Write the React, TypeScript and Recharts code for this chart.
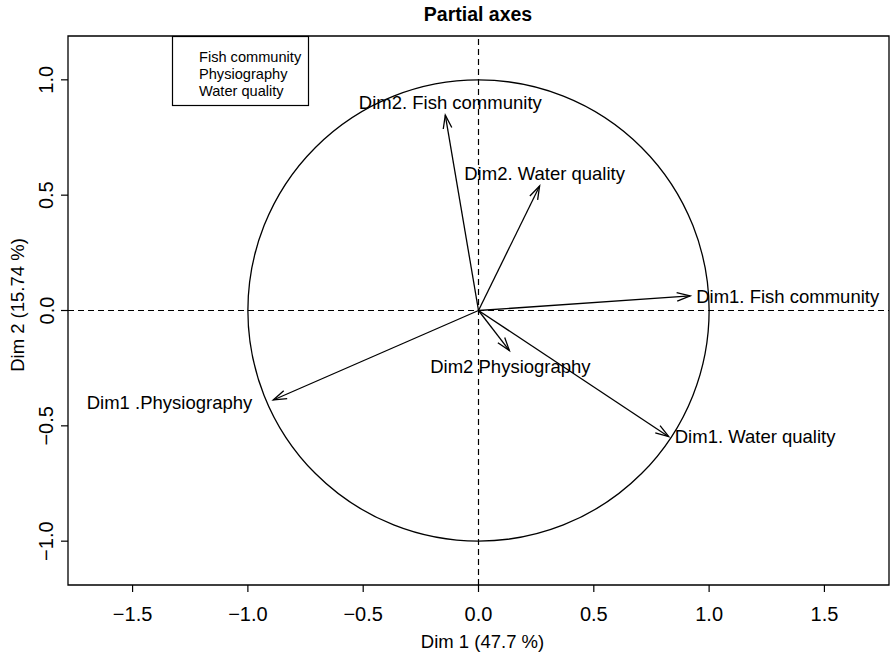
import React from "react";
import { ScatterChart, Scatter, XAxis, YAxis, ReferenceLine, ReferenceArea } from "recharts";

// partial axes of the MFA (correlation circle)
const NAMES = [
    "Dim1. Fish community",
    "Dim2. Fish community",
    "Dim1 .Physiography",
    "Dim2 Physiography",
    "Dim1. Water quality",
    "Dim2. Water quality",
];
const DIM1 = [0.918, -0.144, -0.89, 0.134, 0.825, 0.265];
const DIM2 = [0.063, 0.847, -0.388, -0.174, -0.547, 0.54];
const GROUPS = ["Fish community", "Physiography", "Water quality"];

const X_TICKS = [-1.5, -1, -0.5, 0, 0.5, 1, 1.5];
const Y_TICKS = [-1, -0.5, 0, 0.5, 1];
const X_DOMAIN = [-1.78, 1.78];
const Y_DOMAIN = [-1.19, 1.19];
const CIRCLE_R = 1;

// where each label sits relative to its arrow tip
const PLACE = ["right", "top", "left", "bottom", "right", "top"];

const FONT = '"Liberation Sans", Arial, Helvetica, sans-serif';
const INK = "#000";

const points = NAMES.map((name, i) => ({ name, x: DIM1[i], y: DIM2[i], place: PLACE[i] }));

const fmt = (v: number) => v.toFixed(1).replace("-", "\u2212");

function XTick({ x, y, payload }: any) {
    return (
        <text x={x} y={y} dy={29} textAnchor="middle" fontSize={20} fill={INK} fontFamily={FONT}>
            {fmt(payload.value)}
        </text>
    );
}

function YTick({ x, y, payload }: any) {
    const tx = x - 7.5;
    return (
        <text x={tx} y={y} transform={`rotate(-90, ${tx}, ${y})`} textAnchor="middle" fontSize={20} fill={INK} fontFamily={FONT}>
            {fmt(payload.value)}
        </text>
    );
}

function arrowShape(props: any) {
    const { x1, y1, x2, y2 } = props;
    const ang = Math.atan2(y2 - y1, x2 - x1);
    const len = 14;
    const a = (18 * Math.PI) / 180;
    const bx1 = x2 - len * Math.cos(ang - a);
    const by1 = y2 - len * Math.sin(ang - a);
    const bx2 = x2 - len * Math.cos(ang + a);
    const by2 = y2 - len * Math.sin(ang + a);
    return (
        <g>
            <line x1={x1} y1={y1} x2={x2} y2={y2} stroke={INK} strokeWidth={1.3} />
            <polyline points={`${bx1},${by1} ${x2},${y2} ${bx2},${by2}`} fill="none" stroke={INK} strokeWidth={1.3} />
        </g>
    );
}

function circleShape(props: any) {
    const { x1, y1, x2 } = props;
    return <circle cx={x1} cy={y1} r={Math.abs(x2 - x1)} fill="none" stroke={INK} strokeWidth={1.3} />;
}

function labelShape(props: any) {
    const { cx, cy, payload } = props;
    let tx = cx;
    let ty = cy;
    let anchor = "middle";
    if (payload.place === "right") { tx = cx + 6; anchor = "start"; }
    else if (payload.place === "left") { tx = cx - 21; anchor = "end"; ty = cy + 2; }
    else if (payload.place === "top") { tx = cx + 5; ty = cy - 13; }
    else if (payload.place === "bottom") { tx = cx + 1; ty = cy + 15.5; }
    return (
        <text x={tx} y={ty} dy="0.36em" textAnchor={anchor} fontSize={18.5} fill={INK} fontFamily={FONT}>
            {payload.name}
        </text>
    );
}

export default function App() {
    return (
        <div style={{ position: "relative", width: 890, height: 655, background: "#fff" }}>
            <style>{`body{margin:0;}`}</style>
            <ScatterChart width={890} height={655} margin={{ top: 36, right: 1, bottom: 0, left: 0 }}>
                <XAxis
                    type="number"
                    dataKey="x"
                    domain={X_DOMAIN}
                    ticks={X_TICKS}
                    allowDataOverflow
                    height={70}
                    axisLine={false}
                    tickSize={7}
                    tickMargin={0}
                    tickLine={{ stroke: INK, strokeWidth: 1.2 }}
                    tick={<XTick />}
                    interval={0}
                />
                <YAxis
                    type="number"
                    dataKey="y"
                    domain={Y_DOMAIN}
                    ticks={Y_TICKS}
                    allowDataOverflow
                    width={68}
                    axisLine={false}
                    tickSize={7}
                    tickMargin={0}
                    tickLine={{ stroke: INK, strokeWidth: 1.2 }}
                    tick={<YTick />}
                    interval={0}
                />
                <ReferenceLine x={0} stroke={INK} strokeWidth={1.2} strokeDasharray="6 4" />
                <ReferenceLine y={0} stroke={INK} strokeWidth={1.2} strokeDasharray="6 4" />
                <ReferenceLine segment={[{ x: 0, y: 0 }, { x: CIRCLE_R, y: 0 }]} shape={circleShape} />
                {points.map((p) => (
                    <ReferenceLine key={p.name} segment={[{ x: 0, y: 0 }, { x: p.x, y: p.y }]} shape={arrowShape} />
                ))}
                <ReferenceArea
                    x1={X_DOMAIN[0]}
                    x2={X_DOMAIN[1]}
                    y1={Y_DOMAIN[0]}
                    y2={Y_DOMAIN[1]}
                    fill="none"
                    stroke={INK}
                    strokeWidth={1.3}
                />
                <Scatter data={points} shape={labelShape} isAnimationActive={false} />
            </ScatterChart>
            <svg width={890} height={655} style={{ position: "absolute", left: 0, top: 0, pointerEvents: "none" }}>
                <text x={478} y={20.5} textAnchor="middle" fontSize={19.5} fontWeight="bold" fill={INK} fontFamily={FONT}>
                    Partial axes
                </text>
                <text x={482.5} y={648} textAnchor="middle" fontSize={18.5} fill={INK} fontFamily={FONT}>
                    Dim 1 (47.7 %)
                </text>
                <text x={24} y={305} transform="rotate(-90, 24, 305)" textAnchor="middle" fontSize={18.5} fill={INK} fontFamily={FONT}>
                    Dim 2 (15.74 %)
                </text>
                <rect x={172.5} y={36.5} width={136} height={69} fill="#fff" stroke={INK} strokeWidth={1.2} />
                {GROUPS.map((g, i) => (
                    <text key={g} x={199} y={62.2 + i * 16.8} fontSize={14.6} fill={INK} fontFamily={FONT}>
                        {g}
                    </text>
                ))}
            </svg>
        </div>
    );
}
